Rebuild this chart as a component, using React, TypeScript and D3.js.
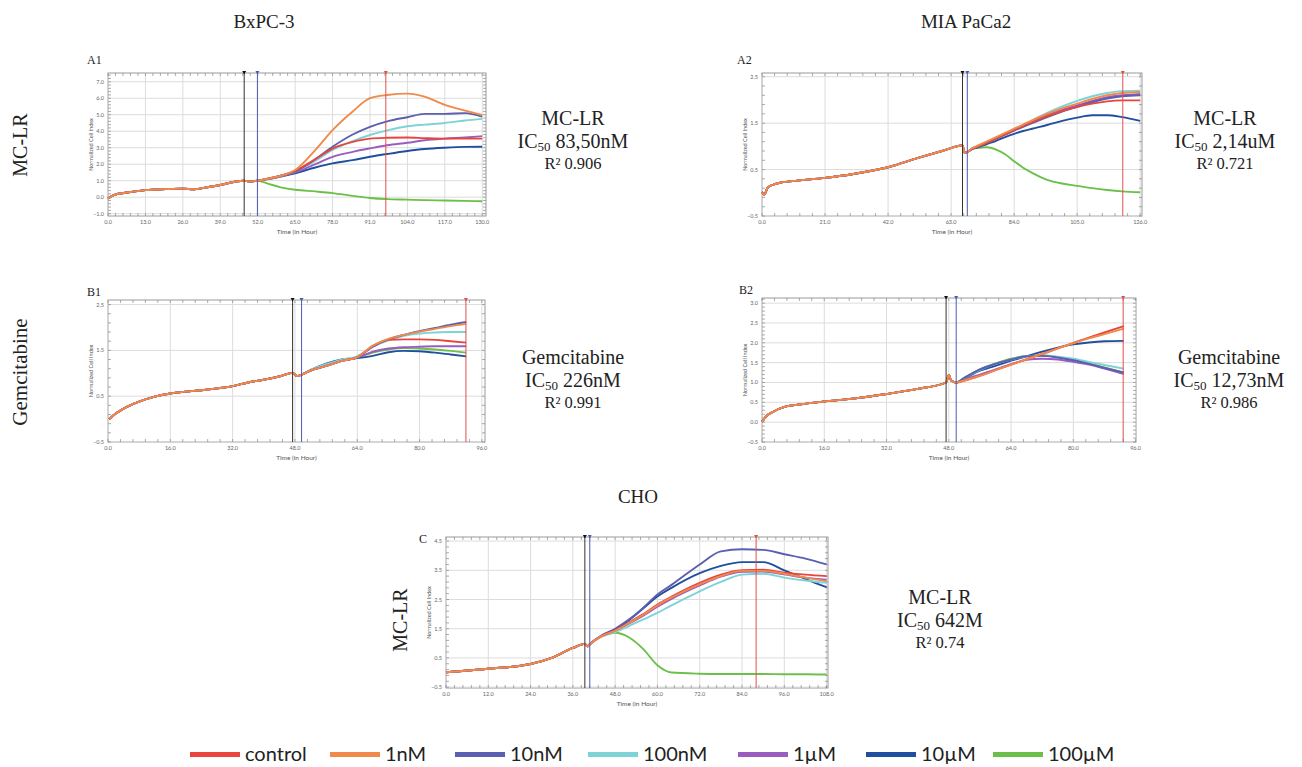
import React from "react";
import * as d3 from "d3";

// ---------- series ----------
const SERIES = ["control", "1nM", "10nM", "100nM", "1µM", "10µM", "100µM"];
const COLORS = ["#e8453c", "#f08a4b", "#5a5fb0", "#7dd3d6", "#9a5cc0", "#1f4f9e", "#6cc04a"];
// drawing order (index into SERIES)
const DRAW_ORDER = [6, 5, 4, 3, 2, 0, 1];

// ---------- A1 BxPC-3 / MC-LR ----------
const A1_preT = [0, 2, 6, 13, 20, 26, 30, 35, 39, 44, 47.3, 49, 51.9];
const A1_preV = [-0.07, 0.13, 0.27, 0.43, 0.49, 0.52, 0.48, 0.62, 0.74, 0.94, 1.0, 0.95, 1.0];
const A1_postT = [55, 60, 65, 72, 78, 85, 91, 97, 104, 110, 117, 124, 130];
const A1_post = [
  [1.1, 1.3, 1.6, 2.3, 2.95, 3.35, 3.55, 3.6, 3.62, 3.58, 3.55, 3.55, 3.55],
  [1.1, 1.3, 1.65, 2.86, 4.07, 5.2, 6.0, 6.2, 6.28, 6.1, 5.6, 5.25, 4.98],
  [1.1, 1.3, 1.55, 2.3, 3.06, 3.8, 4.27, 4.6, 4.85, 5.05, 5.05, 5.1, 4.88],
  [1.1, 1.3, 1.55, 2.2, 2.86, 3.4, 3.77, 4.05, 4.3, 4.4, 4.5, 4.65, 4.75],
  [1.08, 1.27, 1.5, 2.0, 2.45, 2.75, 2.96, 3.15, 3.3, 3.45, 3.55, 3.62, 3.7],
  [1.08, 1.25, 1.45, 1.8, 2.05, 2.25, 2.45, 2.62, 2.8, 2.92, 3.0, 3.05, 3.06],
  [0.85, 0.6, 0.45, 0.35, 0.25, 0.08, -0.05, -0.12, -0.15, -0.18, -0.2, -0.22, -0.25],
];
const A1_xTicks = [0, 13, 26, 39, 52, 65, 78, 91, 104, 117, 130];
const A1_yTicks = [-1, 0, 1, 2, 3, 4, 5, 6, 7];
const A1_marks = [47.3, 51.9, 96.5];

// ---------- A2 MIA PaCa2 / MC-LR ----------
const A2_preT = [0, 0.7, 2, 5, 10, 21, 30, 42, 52, 60, 66.8, 67.5, 68.4];
const A2_preV = [0.02, -0.04, 0.12, 0.2, 0.25, 0.32, 0.4, 0.55, 0.75, 0.9, 1.02, 0.86, 0.88];
const A2_postT = [70, 72, 75, 78, 81, 84, 87, 90, 95, 100, 105, 110, 115, 120, 126];
const A2_post = [
  [0.95, 1.0, 1.08, 1.17, 1.26, 1.35, 1.44, 1.52, 1.65, 1.76, 1.85, 1.92, 1.97, 1.99, 1.99],
  [0.96, 1.02, 1.11, 1.2, 1.29, 1.38, 1.47, 1.56, 1.7, 1.82, 1.92, 2.02, 2.1, 2.15, 2.17],
  [0.95, 1.0, 1.08, 1.17, 1.25, 1.34, 1.42, 1.5, 1.63, 1.75, 1.85, 1.95, 2.03, 2.08, 2.1],
  [0.95, 1.0, 1.09, 1.18, 1.27, 1.36, 1.46, 1.56, 1.72, 1.86, 1.98, 2.08, 2.15, 2.19, 2.2],
  [0.95, 1.0, 1.08, 1.17, 1.26, 1.35, 1.44, 1.53, 1.67, 1.79, 1.88, 1.98, 2.06, 2.1, 2.13],
  [0.94, 0.98, 1.05, 1.12, 1.2, 1.27, 1.33, 1.38, 1.46, 1.55, 1.62, 1.67, 1.67, 1.63, 1.55],
  [0.94, 0.97, 0.98, 0.93, 0.83, 0.68, 0.54, 0.43, 0.28, 0.2, 0.15, 0.1, 0.06, 0.03, 0.01],
];
const A2_xTicks = [0, 21, 42, 63, 84, 105, 126];
const A2_yTicks = [-0.5, 0.5, 1.5, 2.5];
const A2_marks = [66.8, 68.4, 120.2];

// ---------- B1 BxPC-3 / Gemcitabine ----------
const B1_preT = [0.3, 2, 4, 8, 12, 16, 20, 24, 28, 32, 36, 40, 44, 47.4, 48.5, 49.7];
const B1_preV = [0.0, 0.12, 0.23, 0.38, 0.49, 0.56, 0.6, 0.63, 0.67, 0.72, 0.8, 0.86, 0.93, 1.01, 0.94, 0.97];
const B1_postT = [52, 56, 60, 64, 68, 72, 76, 80, 84, 88, 92];
const B1_post = [
  [1.06, 1.16, 1.27, 1.35, 1.6, 1.73, 1.74, 1.74, 1.73, 1.7, 1.67],
  [1.06, 1.16, 1.27, 1.35, 1.6, 1.75, 1.84, 1.91, 1.97, 2.03, 2.08],
  [1.06, 1.16, 1.27, 1.35, 1.58, 1.74, 1.84, 1.92, 1.99, 2.06, 2.12],
  [1.08, 1.2, 1.3, 1.37, 1.58, 1.72, 1.82, 1.87, 1.89, 1.9, 1.9],
  [1.06, 1.16, 1.27, 1.34, 1.47, 1.54, 1.57, 1.58, 1.59, 1.59, 1.59],
  [1.07, 1.21, 1.3, 1.33, 1.38, 1.46, 1.49, 1.48, 1.45, 1.41, 1.37],
  [1.06, 1.16, 1.27, 1.34, 1.45, 1.52, 1.55, 1.54, 1.52, 1.49, 1.45],
];
const B1_xTicks = [0, 16, 32, 48, 64, 80, 96];
const B1_yTicks = [-0.5, 0.5, 1.5, 2.5];
const B1_marks = [47.4, 49.7, 91.9];

// ---------- B2 MIA PaCa2 / Gemcitabine ----------
const B2_preT = [0, 1, 3, 6, 10, 16, 24, 32, 40, 47.3, 48, 48.6, 49.9];
const B2_preV = [0.01, 0.14, 0.27, 0.39, 0.45, 0.52, 0.6, 0.71, 0.84, 1.0, 1.19, 1.05, 1.0];
const B2_postT = [52, 56, 60, 64, 68, 72, 76, 80, 84, 88, 93];
const B2_post = [
  [1.05, 1.17, 1.31, 1.45, 1.59, 1.72, 1.86, 2.0, 2.13, 2.26, 2.42],
  [1.05, 1.17, 1.31, 1.45, 1.59, 1.72, 1.86, 1.99, 2.11, 2.22, 2.36],
  [1.12, 1.33, 1.47, 1.58, 1.66, 1.67, 1.63, 1.56, 1.47, 1.37, 1.25],
  [1.12, 1.32, 1.47, 1.58, 1.66, 1.68, 1.65, 1.6, 1.52, 1.44, 1.35],
  [1.08, 1.2, 1.33, 1.46, 1.57, 1.6, 1.58, 1.52, 1.45, 1.35, 1.21],
  [1.1, 1.3, 1.42, 1.55, 1.66, 1.78, 1.88, 1.96, 2.01, 2.04, 2.05],
  [1.12, 1.33, 1.48, 1.6, 1.67, 1.68, 1.64, 1.57, 1.48, 1.38, 1.25],
];
const B2_xTicks = [0, 16, 32, 48, 64, 80, 96];
const B2_yTicks = [-0.5, 0, 0.5, 1, 1.5, 2, 2.5, 3];
const B2_marks = [47.3, 49.9, 92.8];

// ---------- C CHO / MC-LR ----------
const C_preT = [0, 12, 24, 30, 36, 39.4, 40.2, 40.8];
const C_preV = [0.01, 0.13, 0.29, 0.5, 0.84, 0.98, 0.9, 0.97];
const C_postT = [44, 48, 52, 56, 60, 64, 72, 78, 84, 90, 96, 102, 108];
const C_post = [
  [1.24, 1.44, 1.72, 2.0, 2.33, 2.6, 3.07, 3.35, 3.5, 3.52, 3.42, 3.35, 3.3],
  [1.24, 1.43, 1.7, 1.98, 2.3, 2.57, 3.02, 3.3, 3.48, 3.48, 3.38, 3.25, 3.13],
  [1.26, 1.5, 1.82, 2.22, 2.67, 3.0, 3.7, 4.15, 4.22, 4.2, 4.05, 3.9, 3.7],
  [1.22, 1.38, 1.6, 1.82, 2.04, 2.3, 2.78, 3.1, 3.35, 3.38, 3.25, 3.15, 3.07],
  [1.24, 1.43, 1.68, 1.95, 2.25, 2.52, 2.98, 3.28, 3.45, 3.46, 3.36, 3.25, 3.18],
  [1.25, 1.47, 1.8, 2.2, 2.6, 2.9, 3.4, 3.65, 3.78, 3.78, 3.5, 3.2, 2.92],
  [1.25, 1.36, 1.2, 0.8, 0.25, 0.0, -0.04, -0.05, -0.05, -0.05, -0.06, -0.06, -0.07],
];
const C_xTicks = [0, 12, 24, 36, 48, 60, 72, 84, 96, 108];
const C_yTicks = [-0.5, 0.5, 1.5, 2.5, 3.5, 4.5];
const C_marks = [39.4, 40.8, 88];

const SERIF = "'Liberation Serif', 'DejaVu Serif', serif";
const SANS = "Lato, 'Liberation Sans', sans-serif";

type Box = { l: number; r: number; t: number; b: number };

function Panel(props: {
  box: Box;
  xDomain: [number, number];
  yDomain: [number, number];
  xTicks: number[];
  yTicks: number[];
  marks: number[];
  preT: number[];
  preV: number[];
  postT: number[];
  post: number[][];
}) {
  const { box, xDomain, yDomain, xTicks, yTicks, marks, preT, preV, postT, post } = props;
  const x = d3.scaleLinear().domain(xDomain).range([box.l, box.r]);
  const y = d3.scaleLinear().domain(yDomain).range([box.b, box.t]);
  const line = d3
    .line<[number, number]>()
    .x((d) => x(d[0]))
    .y((d) => y(d[1]))
    .curve(d3.curveMonotoneX);
  const fmt = d3.format(".1f");
  const pre: [number, number][] = preT.map((t, i) => [t, preV[i]]);
  const xStep = xTicks[1] - xTicks[0];
  const minorX = d3.range(xTicks[0], xDomain[1], xStep / 5);
  const yStep = yTicks[1] - yTicks[0];
  const minorY = d3.range(yTicks[0], yDomain[1], yStep / 5);
  const markColors = ["#333333", "#4a5bb5", "#e0504a"];
  return (
    <g>
      <rect x={box.l} y={box.t} width={box.r - box.l} height={box.b - box.t} fill="#ffffff" stroke="#9a9a9a" strokeWidth={1} />
      {xTicks.map((t) => (
        <line key={"gx" + t} x1={x(t)} x2={x(t)} y1={box.t} y2={box.b} stroke="#dcdcdc" strokeWidth={1} />
      ))}
      {yTicks.map((t) => (
        <line key={"gy" + t} x1={box.l} x2={box.r} y1={y(t)} y2={y(t)} stroke="#dcdcdc" strokeWidth={1} />
      ))}
      {minorX.map((t, i) => (
        <g key={"mx" + i}>
          <line x1={x(t)} x2={x(t)} y1={box.t} y2={box.t + 3} stroke="#888" strokeWidth={0.7} />
          <line x1={x(t)} x2={x(t)} y1={box.b} y2={box.b - 3} stroke="#888" strokeWidth={0.7} />
        </g>
      ))}
      {minorY.map((t, i) => (
        <g key={"my" + i}>
          <line x1={box.l} x2={box.l + 3} y1={y(t)} y2={y(t)} stroke="#888" strokeWidth={0.7} />
          <line x1={box.r} x2={box.r - 3} y1={y(t)} y2={y(t)} stroke="#888" strokeWidth={0.7} />
        </g>
      ))}
      {xTicks.map((t) => (
        <text key={"tx" + t} x={x(t)} y={box.b + 8} fontSize={5.5} fill="#666" textAnchor="middle" fontFamily={SANS}>
          {fmt(t)}
        </text>
      ))}
      {yTicks.map((t) => (
        <text key={"ty" + t} x={box.l - 4} y={y(t) + 2} fontSize={5.5} fill="#666" textAnchor="end" fontFamily={SANS}>
          {fmt(t)}
        </text>
      ))}
      <text x={(box.l + box.r) / 2} y={box.b + 18} fontSize={6.5} fill="#555" textAnchor="middle" fontFamily={SANS}>
        Time (in Hour)
      </text>
      <text
        transform={`translate(${box.l - 15},${(box.t + box.b) / 2}) rotate(-90)`}
        fontSize={5.5}
        fill="#555"
        textAnchor="middle"
        fontFamily={SANS}
      >
        Normalized Cell Index
      </text>
      {DRAW_ORDER.map((si) => {
        const pts: [number, number][] = pre.concat(postT.map((t, i) => [t, post[si][i]] as [number, number]));
        return <path key={"s" + si} d={line(pts) || ""} fill="none" stroke={COLORS[si]} strokeWidth={1.9} />;
      })}
      {marks.map((m, i) => (
        <g key={"mk" + i}>
          <line x1={x(m)} x2={x(m)} y1={box.t} y2={box.b} stroke={markColors[i]} strokeWidth={1} />
          <path
            d={`M${x(m) - 2},${box.t - 2} L${x(m) + 2},${box.t - 2} L${x(m)},${box.t + 1.5} Z`}
            fill={markColors[i] === "#333333" ? "#111" : markColors[i]}
          />
        </g>
      ))}
    </g>
  );
}

function Note(props: { cx: number; y: number; title: string; ic: string; r2: string }) {
  const { cx, y, title, ic, r2 } = props;
  return (
    <g fontFamily={SERIF} fill="#222" textAnchor="middle">
      <text x={cx} y={y} fontSize={20}>{title}</text>
      <text x={cx} y={y + 23} fontSize={20}>
        IC<tspan fontSize={13} dy={3}>50</tspan>
        <tspan dy={-3}> {ic}</tspan>
      </text>
      <text x={cx} y={y + 44} fontSize={16.5}>
        R² {r2}
      </text>
    </g>
  );
}

export default function App() {
  const legendX = [190, 330, 455, 588, 738, 866, 993];
  return (
    <svg width={1302} height={767} style={{ position: "absolute", left: 0, top: 0, background: "#fff" }}>
      <rect x={0} y={0} width={1302} height={767} fill="#fff" />
      {/* column titles */}
      <text x={264} y={28} fontSize={19} fontFamily={SERIF} textAnchor="middle" fill="#222">BxPC-3</text>
      <text x={966} y={28} fontSize={19} fontFamily={SERIF} textAnchor="middle" fill="#222">MIA PaCa2</text>
      <text x={638} y={503} fontSize={19} fontFamily={SERIF} textAnchor="middle" fill="#222">CHO</text>
      {/* row labels */}
      <text transform="translate(27,145) rotate(-90)" fontSize={20} fontFamily={SERIF} textAnchor="middle" fill="#222">MC-LR</text>
      <text transform="translate(27,372) rotate(-90)" fontSize={21} fontFamily={SERIF} textAnchor="middle" fill="#222">Gemcitabine</text>
      <text transform="translate(407,620) rotate(-90)" fontSize={20} fontFamily={SERIF} textAnchor="middle" fill="#222">MC-LR</text>
      {/* panel letters */}
      <text x={87} y={64} fontSize={12} fontFamily={SERIF} fill="#222">A1</text>
      <text x={737} y={64} fontSize={12} fontFamily={SERIF} fill="#222">A2</text>
      <text x={87} y={296} fontSize={12} fontFamily={SERIF} fill="#222">B1</text>
      <text x={739} y={294} fontSize={12} fontFamily={SERIF} fill="#222">B2</text>
      <text x={419} y={543} fontSize={12} fontFamily={SERIF} fill="#222">C</text>

      <Panel box={{ l: 108, r: 486, t: 73, b: 216 }} xDomain={[0, 131.3]} yDomain={[-1.14, 7.53]}
        xTicks={A1_xTicks} yTicks={A1_yTicks} marks={A1_marks} preT={A1_preT} preV={A1_preV} postT={A1_postT} post={A1_post} />
      <Panel box={{ l: 762, r: 1142, t: 73, b: 216 }} xDomain={[0, 126.6]} yDomain={[-0.5, 2.58]}
        xTicks={A2_xTicks} yTicks={A2_yTicks} marks={A2_marks} preT={A2_preT} preV={A2_preV} postT={A2_postT} post={A2_post} />
      <Panel box={{ l: 108, r: 485, t: 300, b: 442 }} xDomain={[0, 96.8]} yDomain={[-0.5, 2.6]}
        xTicks={B1_xTicks} yTicks={B1_yTicks} marks={B1_marks} preT={B1_preT} preV={B1_preV} postT={B1_postT} post={B1_post} />
      <Panel box={{ l: 762, r: 1136, t: 298, b: 442 }} xDomain={[0, 96.1]} yDomain={[-0.5, 3.13]}
        xTicks={B2_xTicks} yTicks={B2_yTicks} marks={B2_marks} preT={B2_preT} preV={B2_preV} postT={B2_postT} post={B2_post} />
      <Panel box={{ l: 446, r: 828, t: 537, b: 688 }} xDomain={[0, 108.4]} yDomain={[-0.53, 4.64]}
        xTicks={C_xTicks} yTicks={C_yTicks} marks={C_marks} preT={C_preT} preV={C_preV} postT={C_postT} post={C_post} />

      <Note cx={573} y={125} title="MC-LR" ic="83,50nM" r2="0.906" />
      <Note cx={1225} y={125} title="MC-LR" ic="2,14uM" r2="0.721" />
      <Note cx={573} y={364} title="Gemcitabine" ic="226nM" r2="0.991" />
      <Note cx={1229} y={364} title="Gemcitabine" ic="12,73nM" r2="0.986" />
      <Note cx={940} y={604} title="MC-LR" ic="642M" r2="0.74" />

      {/* legend */}
      {SERIES.map((s, i) => (
        <g key={"lg" + s}>
          <rect x={legendX[i]} y={752} width={50} height={5} fill={COLORS[i]} />
          <text x={legendX[i] + 55} y={761} fontSize={20} fontFamily={SANS} fill="#222">{s}</text>
        </g>
      ))}
    </svg>
  );
}
